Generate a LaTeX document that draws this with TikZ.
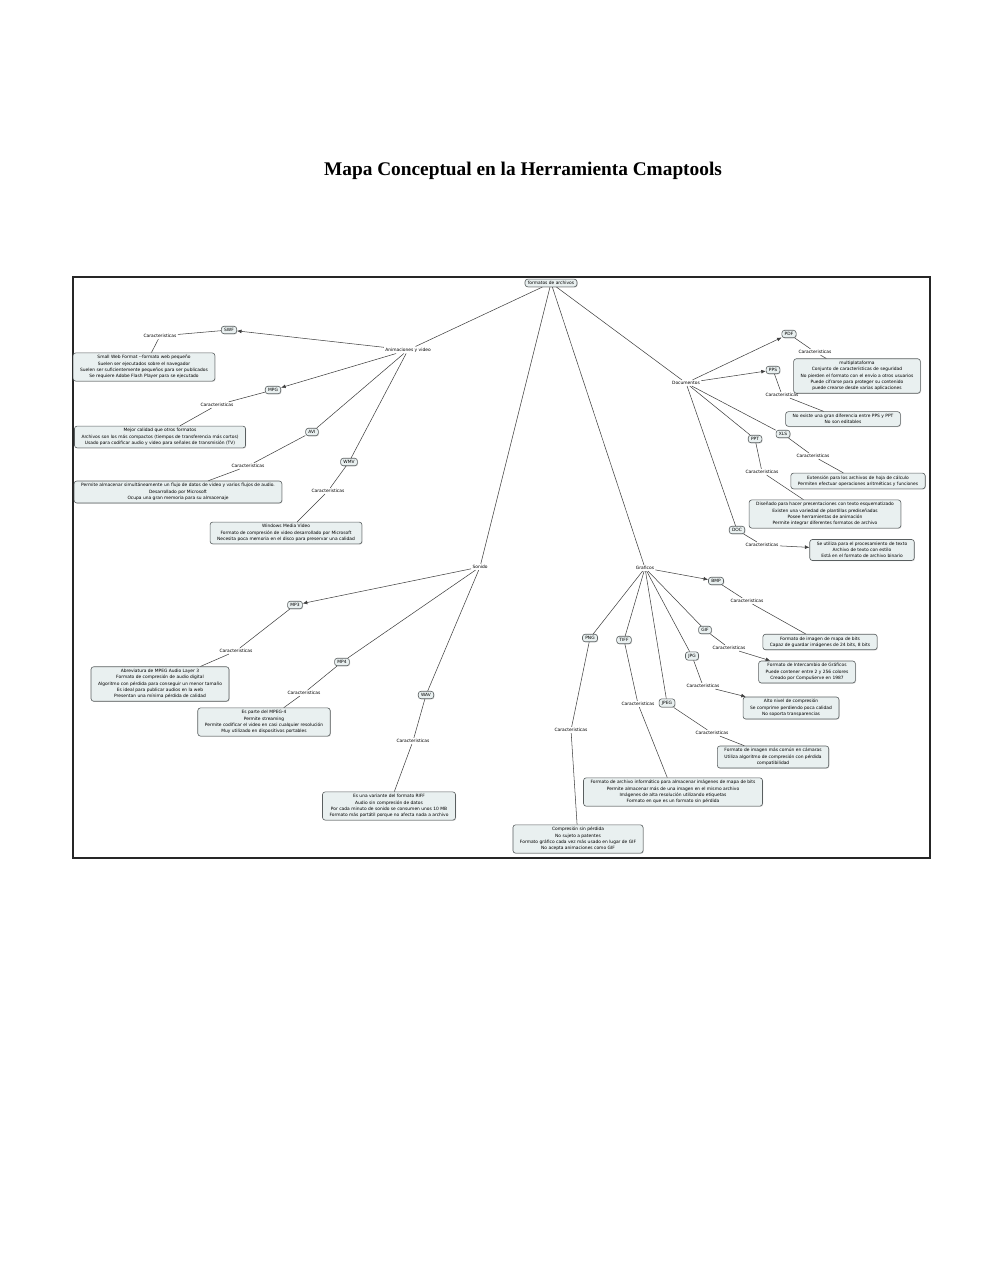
\documentclass[tikz,border=0pt]{standalone}
\usepackage{fontspec}
\setmainfont{Liberation Serif}
\newfontfamily\mapafont{DejaVu Sans}
\usetikzlibrary{arrows.meta, shadows}
\definecolor{cajafondo}{HTML}{E9F0F0}
\definecolor{cajaborde}{HTML}{5A5F60}

\begin{document}
\begin{tikzpicture}[x=0.02cm, y=-0.02cm,
  concepto/.style={draw=cajaborde, fill=cajafondo, rounded corners=1.5pt, line width=0.35pt,
    inner xsep=1.6pt, inner ysep=1.2pt, align=center,
    font=\mapafont\fontsize{2.5pt}{3.6pt}\selectfont,
    drop shadow={shadow xshift=0.4pt, shadow yshift=-0.4pt, fill=black!30}},
  descripcion/.style={concepto, inner xsep=4pt, inner ysep=1.4pt},
  frase/.style={inner sep=0.6pt, font=\mapafont\fontsize{2.5pt}{3.6pt}\selectfont},
  linea/.style={draw=black!75, line width=0.3pt},
  flecha/.style={linea, -{Latex[length=2.6pt,width=2.2pt]}}]
\useasboundingbox (0,0) rectangle (990,1280);

%titulo y marco
\node[font=\bfseries\fontsize{11pt}{13pt}\selectfont] (titulo) at (523,171) {Mapa Conceptual en la Herramienta Cmaptools};
\draw[line width=1.1pt, black!85] (73,277) rectangle (930,858);

%raiz
\node[concepto] (formatos) at (551,283) {formatos de archivos};
\node[frase] (anim) at (408,350) {Animaciones y video};
\node[frase] (docs) at (686,383) {Documentos};
\node[frase] (sonido) at (480,567) {Sonido};
\node[frase] (graf) at (645,568) {Graficos};

%animaciones y video
\node[concepto] (swf) at (229,330) {SWF};
\node[frase] (swfc) at (160,336) {Caracteristicas};
\node[descripcion] (swfd) at (144,367) {Small Web Format --formato web pequeño\\Suelen ser ejecutados sobre el navegador\\Suelen ser suficientemente pequeños para ser publicados\\Se requiere Adobe Flash Player para se ejecutado};

\node[concepto] (mpg) at (273,390) {MPG};
\node[frase] (mpgc) at (217,405) {Caracteristicas};
\node[descripcion] (mpgd) at (160,437) {Mejor calidad que otros formatos\\Archivos son los más compactos (tiempos de transferencia más cortos)\\Usado para codificar audio y video para señales de transmisión (TV)};

\node[concepto] (avi) at (312,432) {AVI};
\node[frase] (avic) at (248,466) {Caracteristicas};
\node[descripcion] (avid) at (178,492) {Permite almacenar simultáneamente un flujo de datos de video y varios flujos de audio.\\Desarrollado por Microsoft\\Ocupa una gran memoria para su almacenaje};

\node[concepto] (wmv) at (349,462) {WMV};
\node[frase] (wmvc) at (328,491) {Caracteristicas};
\node[descripcion] (wmvd) at (286,533) {Windows Media Video\\Formato de compresión de video desarrollado por Microsoft\\Necesita poca memoria en el disco para preservar una calidad};

%documentos
\node[concepto] (pdf) at (789,334) {PDF};
\node[frase] (pdfc) at (815,352) {Caracteristicas};
\node[descripcion] (pdfd) at (857,376) {multiplataforma\\Conjunto de características de seguridad\\No pierden el formato con el envío a otros usuarios\\Puede cifrarse para proteger su contenido\\puede crearse desde varias aplicaciones};

\node[concepto] (pps) at (773,370) {PPS};
\node[frase] (ppsc) at (782,395) {Caracteristicas};
\node[descripcion] (ppsd) at (843,419) {No existe una gran diferencia entre PPS y PPT\\No son editables};

\node[concepto] (xls) at (783,434) {XLS};
\node[frase] (xlsc) at (813,456) {Caracteristicas};
\node[descripcion] (xlsd) at (858,481) {Extensión para los archivos de hoja de cálculo\\Permiten efectuar operaciones aritméticas y funciones};

\node[concepto] (ppt) at (755,439) {PPT};
\node[frase] (pptc) at (762,472) {Caracteristicas};
\node[descripcion] (pptd) at (825,514) {Diseñado para hacer presentaciones con texto esquematizado\\Existen una variedad de plantillas prediseñadas\\Posee herramientas de animación\\Permite integrar diferentes formatos de archivo};

\node[concepto] (doc) at (737,530) {DOC};
\node[frase] (docc) at (762,545) {Caracteristicas};
\node[descripcion] (docd) at (862,550) {Se utiliza para el procesamiento de texto\\Archivo de texto con estilo\\Está en el formato de archivo binario};

%sonido
\node[concepto] (mp3) at (295,605) {MP3};
\node[frase] (mp3c) at (236,651) {Caracteristicas};
\node[descripcion] (mp3d) at (160,684) {Abreviatura de MPEG Audio Layer 3\\Formato de compresión de audio digital\\Algoritmo con pérdida para conseguir un menor tamaño\\Es ideal para publicar audios en la web\\Presentan una mínima pérdida de calidad};

\node[concepto] (mp4) at (342,662) {MP4};
\node[frase] (mp4c) at (304,693) {Caracteristicas};
\node[descripcion] (mp4d) at (264,722) {Es parte del MPEG-4\\Permite streaming\\Permite codificar el video en casi cualquier resolución\\Muy utilizado en dispositivos portables};

\node[concepto] (wav) at (426,695) {WAV};
\node[frase] (wavc) at (413,741) {Caracteristicas};
\node[descripcion] (wavd) at (389,806) {Es una variante del formato RIFF\\Audio sin compresión de datos\\Por cada minuto de sonido se consumen unos 10 MB\\Formato más portátil porque no afecta nada a archivo};

%graficos
\node[concepto] (bmp) at (716,581) {BMP};
\node[frase] (bmpc) at (747,601) {Caracteristicas};
\node[descripcion] (bmpd) at (820,642) {Formato de imagen de mapa de bits\\Capaz de guardar imágenes de 24 bits, 8 bits};

\node[concepto] (gif) at (705,630) {GIF};
\node[frase] (gifc) at (729,648) {Caracteristicas};
\node[descripcion] (gifd) at (807,672) {Formato de Intercambio de Gráficos\\Puede contener entre 2 y 256 colores\\Creado por CompuServe en 1987};

\node[concepto] (jpg) at (692,656) {JPG};
\node[frase] (jpgc) at (703,686) {Caracteristicas};
\node[descripcion] (jpgd) at (791,708) {Alto nivel de compresión\\Se comprime perdiendo poca calidad\\No soporta transparencias};

\node[concepto] (jpeg) at (667,703) {JPEG};
\node[frase] (jpegc) at (712,733) {Caracteristicas};
\node[descripcion] (jpegd) at (773,757) {Formato de imagen más común en cámaras\\Utiliza algoritmo de compresión con pérdida\\compatibilidad};

\node[concepto] (tiff) at (624,640) {TIFF};
\node[frase] (tiffc) at (638,704) {Caracteristicas};
\node[descripcion] (tiffd) at (673,792) {Formato de archivo informático para almacenar imágenes de mapa de bits\\Permite almacenar más de una imagen en el mismo archivo\\Imágenes de alta resolución utilizando etiquetas\\Formato en que es un formato sin pérdida};

\node[concepto] (png) at (590,638) {PNG};
\node[frase] (pngc) at (571,730) {Caracteristicas};
\node[descripcion] (pngd) at (578,839) {Compresión sin pérdida\\No sujeto a patentes\\Formato gráfico cada vez más usado en lugar de GIF\\No acepta animaciones como GIF};

%conectores
\draw[linea] (formatos) -- (anim);
\draw[linea] (formatos) -- (docs);
\draw[linea] (formatos) -- (sonido);
\draw[linea] (formatos) -- (graf);

\draw[flecha] (anim) -- (swf);
\draw[flecha] (anim) -- (mpg);
\draw[linea] (anim) -- (avi);
\draw[linea] (anim) -- (wmv);
\draw[linea] (swf) -- (swfc) -- (swfd);
\draw[linea] (mpg) -- (mpgc) -- (mpgd);
\draw[linea] (avi) -- (avic) -- (avid);
\draw[linea] (wmv) -- (wmvc) -- (wmvd);

\draw[flecha] (docs) -- (pdf);
\draw[flecha] (docs) -- (pps);
\draw[linea] (docs) -- (xls);
\draw[linea] (docs) -- (ppt);
\draw[linea] (docs) -- (doc);
\draw[linea] (pdf) -- (pdfc) -- (pdfd);
\draw[linea] (pps) -- (ppsc) -- (ppsd);
\draw[linea] (xls) -- (xlsc) -- (xlsd);
\draw[linea] (ppt) -- (pptc) -- (pptd);
\draw[linea] (doc) -- (docc);
\draw[flecha] (docc) -- (docd);

\draw[flecha] (sonido) -- (mp3);
\draw[linea] (sonido) -- (mp4);
\draw[linea] (sonido) -- (wav);
\draw[linea] (mp3) -- (mp3c) -- (mp3d);
\draw[linea] (mp4) -- (mp4c) -- (mp4d);
\draw[linea] (wav) -- (wavc) -- (wavd);

\draw[flecha] (graf) -- (bmp);
\draw[linea] (graf) -- (gif);
\draw[linea] (graf) -- (jpg);
\draw[linea] (graf) -- (jpeg);
\draw[linea] (graf) -- (tiff);
\draw[linea] (graf) -- (png);
\draw[linea] (bmp) -- (bmpc) -- (bmpd);
\draw[linea] (gif) -- (gifc);
\draw[flecha] (gifc) -- (gifd);
\draw[linea] (jpg) -- (jpgc);
\draw[flecha] (jpgc) -- (jpgd);
\draw[linea] (jpeg) -- (jpegc) -- (jpegd);
\draw[linea] (tiff) -- (tiffc) -- (tiffd);
\draw[linea] (png) -- (pngc) -- (pngd);

\end{tikzpicture}
\end{document}
